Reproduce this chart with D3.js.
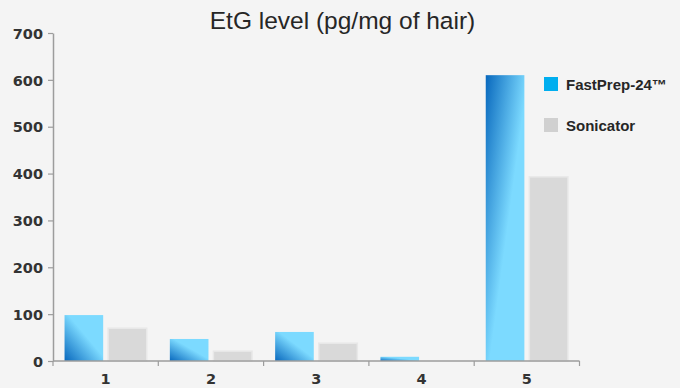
<!DOCTYPE html>
<html>
<head>
<meta charset="utf-8">
<script src="https://cdn.jsdelivr.net/npm/d3@7"></script>
<style>
  html, body { margin: 0; padding: 0; background: #f4f4f4; }
  svg { display: block; }
</style>
</head>
<body>
<script>
const categories = ["1", "2", "3", "4", "5"];
const seriesNames = ["FastPrep-24™", "Sonicator"];
const fastPrep = [98, 47, 62, 9, 610];
const sonicator = [70, 21, 38, 0, 393];
const yTicks = [0, 100, 200, 300, 400, 500, 600, 700];
const title = "EtG level (pg/mg of hair)";

const W = 680, H = 388;
const svg = d3.select("body").append("svg").attr("width", W).attr("height", H);
svg.append("rect").attr("width", W).attr("height", H).attr("fill", "#f4f4f4");

const defs = svg.append("defs");
function grad(id, x1, y1, x2, y2) {
  const g = defs.append("linearGradient").attr("id", id)
    .attr("x1", x1).attr("y1", y1).attr("x2", x2).attr("y2", y2);
  g.append("stop").attr("offset", "0").attr("stop-color", "#0868bd");
  g.append("stop").attr("offset", "0.55").attr("stop-color", "#7cdaff");
  g.append("stop").attr("offset", "1").attr("stop-color", "#7cdaff");
}
grad("gShort", 0, 1, 1, 0);
grad("gTall", 0, 0, 1, 1);

const x0 = d3.scaleBand().domain(categories).range([53, 579.5]).paddingInner(0).paddingOuter(0);
const x1 = d3.scaleBand().domain(seriesNames).range([0, x0.bandwidth()]).paddingInner(0.1136).paddingOuter(0.265);
const y = d3.scaleLinear().domain([0, 700]).range([361, 33]);

const rows = categories.map((c, i) => ({ cat: c, vals: [fastPrep[i], sonicator[i]] }));

// bars
const g = svg.append("g");
rows.forEach(r => {
  r.vals.forEach((v, si) => {
    if (v <= 0) return;
    const bx = x0(r.cat) + x1(seriesNames[si]);
    const bw = x1.bandwidth();
    const by = y(v), bh = y(0) - y(v);
    const rect = g.append("rect").attr("x", bx).attr("y", by).attr("width", bw).attr("height", bh);
    if (si === 0) {
      rect.attr("fill", bh > 2.5 * bw ? "url(#gTall)" : "url(#gShort)");
    } else {
      rect.attr("fill", "#d9d9d9").attr("stroke", "#e8e8e8").attr("stroke-width", 1.5);
    }
  });
});

// y axis
const yAxis = d3.axisLeft(y).tickValues(yTicks).tickSize(5).tickPadding(5).tickSizeOuter(0);
const ya = svg.append("g").attr("transform", "translate(53,0)").call(yAxis);
ya.select(".domain").attr("stroke", "#9c9c9c").attr("stroke-width", 1.5);
ya.selectAll(".tick line").attr("stroke", "#9c9c9c").attr("stroke-width", 1.2);
ya.selectAll(".tick text").attr("font-family", "DejaVu Sans").attr("font-weight", "bold")
  .attr("font-size", 14.5).attr("fill", "#333").attr("dy", "0.36em");

// x axis
const xa = svg.append("g");
xa.append("line").attr("x1", 53).attr("x2", 579.5).attr("y1", y(0)).attr("y2", y(0))
  .attr("stroke", "#9c9c9c").attr("stroke-width", 1.5);
const bounds = categories.map(c => x0(c)).concat([x0(categories[categories.length - 1]) + x0.bandwidth()]);
bounds.forEach(b => {
  xa.append("line").attr("x1", b).attr("x2", b).attr("y1", y(0)).attr("y2", y(0) + 5)
    .attr("stroke", "#9c9c9c").attr("stroke-width", 1.2);
});
categories.forEach(c => {
  xa.append("text").attr("x", x0(c) + x0.bandwidth() / 2).attr("y", 384)
    .attr("text-anchor", "middle").attr("font-family", "DejaVu Sans").attr("font-weight", "bold")
    .attr("font-size", 14.5).attr("fill", "#333").text(c);
});

// title
svg.append("text").attr("x", 342.5).attr("y", 29).attr("text-anchor", "middle")
  .attr("font-family", "Liberation Sans").attr("font-size", 24.5).attr("fill", "#262626").text(title);

// legend
const legendColors = ["#00aeef", "#d0d0d0"];
const legendY = [77, 118];
seriesNames.forEach((s, i) => {
  svg.append("rect").attr("x", 544).attr("y", legendY[i]).attr("width", 14).attr("height", 14)
    .attr("fill", legendColors[i]);
  svg.append("text").attr("x", 566).attr("y", legendY[i] + 12.5)
    .attr("font-family", "Liberation Sans").attr("font-weight", "bold").attr("font-size", 15)
    .attr("fill", "#262626").text(s);
});
</script>
</body>
</html>
